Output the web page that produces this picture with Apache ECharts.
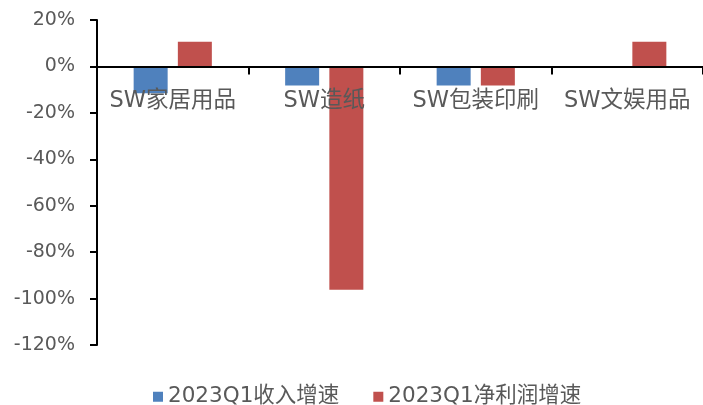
<!DOCTYPE html>
<html><head><meta charset="utf-8">
<script src="https://cdn.jsdelivr.net/npm/echarts@6/dist/echarts.min.js"></script>
<style>html,body{margin:0;padding:0;background:#fff}#c{width:703px;height:405px}</style>
</head><body><div id="c"></div>
<script>
const categories = ['SW家居用品', 'SW造纸', 'SW包装印刷', 'SW文娱用品'];
const revenueGrowth = [-11.5, -8.2, -8.2, 0];
const profitGrowth = [10.6, -96.2, -8.2, 10.6];
const seriesNames = ['2023Q1收入增速', '2023Q1净利润增速'];
const yTicks = {min: -120, max: 20, interval: 20};

const font = "'DejaVu Sans', 'Noto Sans CJK SC', sans-serif";
const gridTop = 20, gridHeight = 325;
// place the category axis on the zero line of the value axis
const zeroOffset = -gridHeight * (0 - yTicks.min) / (yTicks.max - yTicks.min);

const chart = echarts.init(document.getElementById('c'), null, {renderer: 'canvas'});
chart.setOption({
  animation: false,
  textStyle: {fontFamily: font},
  grid: {left: 97, top: gridTop, width: 610, height: gridHeight, containLabel: false},
  legend: {
    top: 381, left: 148, itemWidth: 10, itemHeight: 10, itemGap: 34,
    icon: 'rect',
    textStyle: {fontSize: 21.5, color: '#595959', fontFamily: font},
    data: seriesNames
  },
  xAxis: {
    type: 'category', data: categories,
    offset: zeroOffset, z: 10,
    axisLine: {onZero: false, lineStyle: {color: '#000', width: 2}},
    axisTick: {show: true, length: 8, lineStyle: {color: '#000', width: 2}},
    axisLabel: {fontSize: 22.5, color: '#595959', margin: 23, fontFamily: font, interval: 0}
  },
  yAxis: {
    type: 'value', min: yTicks.min, max: yTicks.max, interval: yTicks.interval,
    splitLine: {show: false}, z: 10,
    axisLine: {show: true, lineStyle: {color: '#000', width: 2}},
    axisTick: {show: true, length: 7, lineStyle: {color: '#000', width: 2}},
    axisLabel: {fontSize: 19, color: '#595959', margin: 22, formatter: v => v + '%', fontFamily: font}
  },
  series: [
    {name: seriesNames[0], type: 'bar', data: revenueGrowth, barWidth: 34, barGap: '30%', itemStyle: {color: '#4F81BD'}},
    {name: seriesNames[1], type: 'bar', data: profitGrowth, barWidth: 34, barGap: '30%', itemStyle: {color: '#C0504D'}}
  ]
});
</script></body></html>
